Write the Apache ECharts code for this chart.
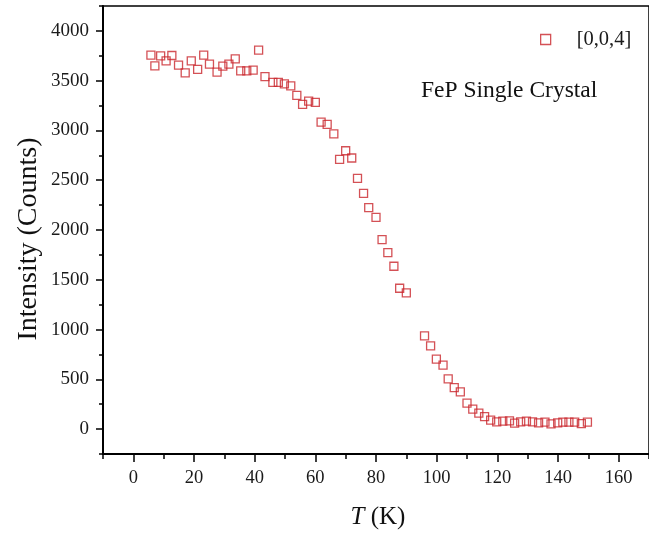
<!DOCTYPE html>
<html>
<head>
<meta charset="utf-8">
<script src="https://cdn.jsdelivr.net/npm/echarts@6/dist/echarts.min.js"></script>
<style>
  html, body { margin: 0; padding: 0; background: #fff; }
  #chart { width: 649px; height: 535px; }
</style>
</head>
<body>
<div id="chart"></div>
<script>
// Temperature (K) of each measurement
const temperature = [
  5.8, 7.1, 9.0, 10.8, 12.7, 14.9, 17.1, 19.1, 21.2, 23.2,
  25.1, 27.6, 29.5, 31.5, 33.6, 35.4, 37.4, 39.5, 41.3, 43.4,
  46.0, 47.8, 49.8, 51.9, 53.9, 55.8, 57.8, 60.0, 61.9, 63.9,
  66.1, 68.0, 70.0, 72.0, 73.9, 75.9, 77.6, 80.0, 82.0, 83.9,
  85.9, 87.8, 90.0,
  96.0, 98.0, 99.9, 102.1, 103.8, 105.8, 107.8, 110.0, 111.9, 113.9,
  115.8, 117.8,
  119.8, 121.8, 124.0, 125.7, 127.7, 129.6, 131.6, 133.6, 135.7, 137.7,
  139.9, 141.6, 143.6, 145.5, 147.7, 149.7
];

// [0,0,4] peak intensity (counts)
const intensity = [
  3756, 3649, 3749, 3699, 3753, 3656, 3579, 3699, 3613, 3756,
  3666, 3586, 3646, 3666, 3719, 3599, 3599, 3606, 3806, 3540,
  3482, 3482, 3468, 3448, 3352, 3261, 3295, 3281, 3084, 3061,
  2966, 2709, 2796, 2723, 2519, 2368, 2224, 2127, 1903, 1772,
  1636, 1415, 1368,
  936, 836, 702, 642, 505, 417, 374, 262, 200, 161,
  125, 90,
  72, 80, 82, 60, 73, 80, 73, 63, 70, 53,
  63, 70, 70, 70, 56, 70
];

const seriesName = '[0,0,4]';
const xMajorTicks = [0, 20, 40, 60, 80, 100, 120, 140, 160];
const xMinorTicks = [-10, 10, 30, 50, 70, 90, 110, 130, 150, 170];
const yMajorTicks = [0, 500, 1000, 1500, 2000, 2500, 3000, 3500, 4000];
const yMinorTicks = [-250, 250, 750, 1250, 1750, 2250, 2750, 3250, 3750, 4250];

const FONT = '"Liberation Serif", "Times New Roman", serif';
const RED = '#c9262c';

const points = temperature.map((t, i) => [t, intensity[i]]);

const chart = echarts.init(document.getElementById('chart'), null, { renderer: 'canvas' });

const axisLineStyle = { color: '#000', width: 2 };
const plain = v => String(v);

chart.setOption({
  animation: false,
  backgroundColor: '#fff',
  grid: {
    left: 103, top: 6, bottom: 81, right: -6,
    show: true, borderColor: '#000', borderWidth: 1.5,
    containLabel: false
  },
  xAxis: [
    {
      type: 'value', min: -10, max: 170, position: 'bottom',
      axisLine: { show: true, onZero: false, lineStyle: axisLineStyle },
      axisTick: { show: true, customValues: xMajorTicks, length: 8, inside: false, lineStyle: { color: '#000', width: 1.5 } },
      axisLabel: { customValues: xMajorTicks, formatter: plain, fontFamily: FONT, fontSize: 18.5, color: '#1a1a1a', margin: 15 },
      splitLine: { show: false }
    },
    {
      type: 'value', min: -10, max: 170, position: 'bottom',
      axisLine: { show: false, onZero: false },
      axisTick: { show: true, customValues: xMinorTicks, length: 5, lineStyle: { color: '#000', width: 1.5 } },
      axisLabel: { show: false },
      splitLine: { show: false }
    }
  ],
  yAxis: [
    {
      type: 'value', min: -250, max: 4250, position: 'left',
      axisLine: { show: true, onZero: false, lineStyle: axisLineStyle },
      axisTick: { show: true, customValues: yMajorTicks, length: 7, lineStyle: { color: '#000', width: 1.5 } },
      axisLabel: { customValues: yMajorTicks, formatter: plain, fontFamily: FONT, fontSize: 19, color: '#1a1a1a', margin: 14 },
      splitLine: { show: false }
    },
    {
      type: 'value', min: -250, max: 4250, position: 'left',
      axisLine: { show: false, onZero: false },
      axisTick: { show: true, customValues: yMinorTicks, length: 4, lineStyle: { color: '#000', width: 1.5 } },
      axisLabel: { show: false },
      splitLine: { show: false }
    }
  ],
  legend: {
    show: true,
    left: 535, top: 24,
    itemWidth: 10, itemHeight: 10,
    icon: 'rect',
    itemStyle: { color: 'rgba(0,0,0,0)', borderColor: RED, borderWidth: 1.3 },
    textStyle: { fontFamily: FONT, fontSize: 20.5, color: '#1a1a1a', padding: [0, 0, 0, 21] },
    data: [seriesName]
  },
  graphic: [
    {
      type: 'text', left: 421, top: 79,
      style: { text: 'FeP Single Crystal', font: '23.5px ' + FONT, fill: '#111' }
    },
    {
      type: 'text', x: 29, y: 239, rotation: Math.PI / 2,
      style: { text: 'Intensity (Counts)', font: '28px ' + FONT, fill: '#111', align: 'center', verticalAlign: 'middle' }
    },
    {
      type: 'text', x: 378, y: 517,
      style: {
        text: '{i|T} (K)', align: 'center', verticalAlign: 'middle', fill: '#111',
        font: '25px ' + FONT,
        rich: { i: { fontStyle: 'italic', fontFamily: FONT, fontSize: 25, fill: '#111' } }
      }
    }
  ],
  series: [
    {
      name: seriesName,
      type: 'scatter',
      xAxisIndex: 0, yAxisIndex: 0,
      symbol: 'rect',
      symbolSize: 8,
      itemStyle: { color: 'rgba(0,0,0,0)', borderColor: RED, borderWidth: 1.3 },
      data: points
    }
  ]
});
</script>
</body>
</html>
